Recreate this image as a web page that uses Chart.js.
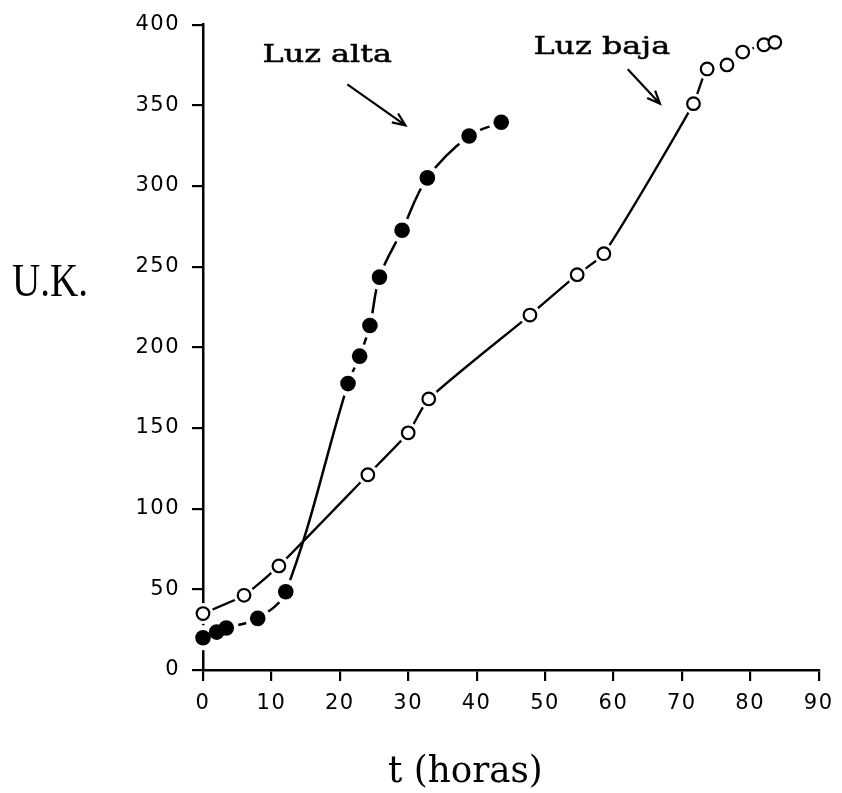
<!DOCTYPE html>
<html>
<head>
<meta charset="utf-8">
<script src="https://cdn.jsdelivr.net/npm/chart.js@4/dist/chart.umd.min.js"></script>
<style>
  html, body { margin: 0; padding: 0; background: #fff; }
  #wrap { width: 842px; height: 793px; }
</style>
</head>
<body>
<div id="wrap"><canvas id="c" width="842" height="793"></canvas></div>
<script>
// ---- data ----
const altaHours = [0, 2.0, 3.4, 8.0, 12.1, 21.2, 22.9, 24.4, 25.8, 29.1, 32.8, 38.9, 43.6];
const altaUK    = [20, 23.5, 26, 32, 48.5, 177.5, 194.5, 213.5, 243.5, 272.5, 305, 331, 339.5];
const bajaHours = [0, 6.0, 11.1, 24.1, 30.0, 33.0, 47.8, 54.7, 58.6, 71.7, 73.7, 76.6, 78.9, 82.0, 83.6];
const bajaUK    = [35, 46.3, 64.5, 121, 147, 168, 220, 245, 258, 351, 372.5, 375, 383, 387.5, 389];
const xTicks = [0, 10, 20, 30, 40, 50, 60, 70, 80, 90];
const yTicks = [0, 50, 100, 150, 200, 250, 300, 350, 400];
const seriesLabels = ['Luz alta', 'Luz baja'];
const xTitle = 't (horas)';
const yTitle = 'U.K.';
// annotation anchors in data units
const altaLabelAt = [8.7, 377];
const bajaLabelAt = [48.3, 382];
const altaArrow = [[21.1, 363], [29.6, 337.5]];
const bajaArrow = [[62.1, 372.4], [66.8, 351]];

const pts = (xs, ys) => xs.map((x, i) => ({x: x, y: ys[i]}));

const annot = {
  id: 'annot',
  beforeDraw(chart) { chart.ctx.letterSpacing = '1.5px'; },
  afterDraw(chart) {
    const ctx = chart.ctx;
    const xs = chart.scales.x, ys = chart.scales.y;
    const P = (v) => [xs.getPixelForValue(v[0]), ys.getPixelForValue(v[1])];
    ctx.save();
    ctx.letterSpacing = '0px';
    ctx.fillStyle = '#000';
    ctx.strokeStyle = '#000';
    ctx.textBaseline = 'alphabetic';
    ctx.textAlign = 'left';
    // series labels
    [[seriesLabels[0], altaLabelAt], [seriesLabels[1], bajaLabelAt]].forEach(([t, at]) => {
      const p = P(at);
      ctx.save();
      ctx.translate(p[0], p[1]);
      ctx.scale(1.3, 1);
      ctx.font = '24.5px "DejaVu Serif"';
      ctx.fillText(t, 0, 0);
      ctx.lineWidth = 0.5;
      ctx.strokeText(t, 0, 0);
      ctx.restore();
    });
    // arrows
    ctx.lineWidth = 2.2;
    [altaArrow, bajaArrow].forEach(a => {
      const s = P(a[0]), e = P(a[1]);
      const ang = Math.atan2(e[1] - s[1], e[0] - s[0]);
      ctx.beginPath();
      ctx.moveTo(s[0], s[1]); ctx.lineTo(e[0], e[1]);
      const L = 14, w = 0.4;
      ctx.moveTo(e[0] - L * Math.cos(ang - w), e[1] - L * Math.sin(ang - w));
      ctx.lineTo(e[0], e[1]);
      ctx.lineTo(e[0] - L * Math.cos(ang + w), e[1] - L * Math.sin(ang + w));
      ctx.stroke();
    });
    // axis titles
    const ca = chart.chartArea;
    ctx.save();
    ctx.translate(ca.left - 191, ca.top + 271);
    ctx.scale(0.85, 1);
    ctx.font = '46px "Liberation Serif"';
    ctx.fillText(yTitle, 0, 0);
    ctx.restore();
    ctx.save();
    ctx.translate(ca.left + 185, ca.bottom + 112);
    ctx.scale(0.94, 1);
    ctx.font = '38px "DejaVu Serif"';
    ctx.fillText(xTitle, 0, 0);
    ctx.restore();
    ctx.restore();
  }
};

const common = { showLine: true, clip: false, fill: false };

new Chart(document.getElementById('c'), {
  type: 'line',
  data: {
    datasets: [
      // marker layers (drawn on top)
      Object.assign({}, common, { label: seriesLabels[0], data: pts(altaHours, altaUK), order: 1, showLine: false,
        pointRadius: 7.8, pointBackgroundColor: '#000', pointBorderColor: '#000', pointBorderWidth: 0 }),
      Object.assign({}, common, { label: seriesLabels[1], data: pts(bajaHours, bajaUK), order: 1, showLine: false,
        pointRadius: 6.3, pointBackgroundColor: '#fff', pointBorderColor: '#000', pointBorderWidth: 2.2 }),
      // white halos to break the curves near markers
      Object.assign({}, common, { label: 'h1', data: pts(altaHours, altaUK), order: 3, showLine: false,
        pointRadius: 12.5, pointBackgroundColor: '#fff', pointBorderWidth: 0 }),
      Object.assign({}, common, { label: 'h2', data: pts(bajaHours, bajaUK), order: 3, showLine: false,
        pointRadius: 10.5, pointBackgroundColor: '#fff', pointBorderWidth: 0 }),
      // curves
      Object.assign({}, common, { label: 'c1', data: pts(altaHours, altaUK), order: 5, pointRadius: 0,
        borderColor: '#000', borderWidth: 2.5, tension: 0.35 }),
      Object.assign({}, common, { label: 'c2', data: pts(bajaHours, bajaUK), order: 5, pointRadius: 0,
        borderColor: '#000', borderWidth: 2.3, tension: 0.2 })
    ]
  },
  options: {
    responsive: false,
    devicePixelRatio: 1,
    animation: false,
    events: [],
    layout: { padding: { top: 22, right: 19, left: 0, bottom: 0 } },
    plugins: { legend: { display: false }, tooltip: { enabled: false } },
    scales: {
      x: {
        type: 'linear', min: 0, max: 90,
        afterFit(s) { s.height = 123; },
        afterBuildTicks(s) { s.ticks = xTicks.map(v => ({ value: v })); },
        grid: { drawOnChartArea: false, drawTicks: true, tickLength: 11, color: '#000', lineWidth: 2.2 },
        border: { display: true, color: '#000', width: 2.5 },
        ticks: { color: '#000', padding: 10, maxRotation: 0, autoSkip: false,
          font: { family: '"DejaVu Sans"', size: 21 } }
      },
      y: {
        type: 'linear', min: 0, max: 400,
        afterFit(s) { s.width = 203; },
        afterBuildTicks(s) { s.ticks = yTicks.map(v => ({ value: v })); },
        grid: { drawOnChartArea: false, drawTicks: true, tickLength: 11, color: '#000', lineWidth: 2.2 },
        border: { display: true, color: '#000', width: 2.5 },
        ticks: { color: '#000', padding: 12, autoSkip: false,
          font: { family: '"DejaVu Sans"', size: 21 } }
      }
    }
  },
  plugins: [annot]
});
</script>
</body>
</html>
